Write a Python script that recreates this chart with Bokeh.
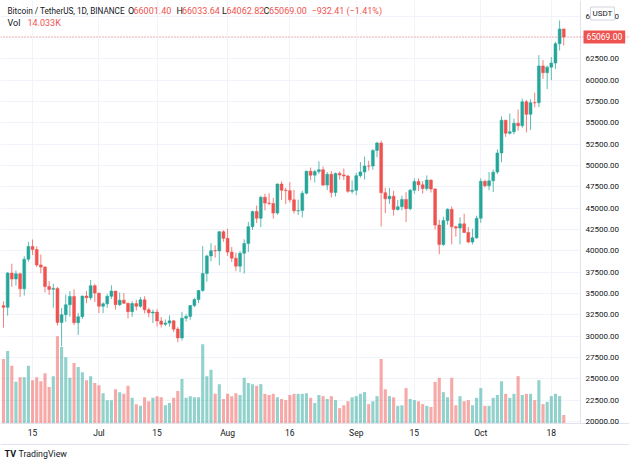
import pandas as pd
from bokeh.plotting import figure
from bokeh.models import (ColumnDataSource, Range1d, FixedTicker, SingleIntervalTicker,
                          NumeralTickFormatter, Label, Span, BoxAnnotation)
from bokeh.embed import file_html
from bokeh.resources import INLINE

# ---------------- data ----------------
start_date = "2021-06-08"
end_date = "2021-10-21"

opens = [
    33575, 33380, 37389, 36693, 37313, 35546, 39020, 40516, 40144, 38349, 38093, 35820, 35484, 35600, 31615, 32510, 33676, 34663, 31577, 32283, 34703, 34494, 35912,
    35045, 33502, 33786, 34669, 35285, 33690, 34221, 33863, 32875, 33815, 33503, 34259, 33086, 32729, 32820, 31781, 31389, 31533, 31797, 30839, 29791, 32110, 32314, 33581, 34292, 35350, 37338, 39406, 40020, 39990, 42236,
    41461, 39850, 39146, 38207, 39723, 40862, 42836, 44614, 43815, 46281, 45596, 45556, 44428, 47834, 47113, 47052, 45974, 44696, 44715, 46760, 49340, 48869, 49286, 49507, 47707, 48972, 46843, 49070, 48896, 48767, 46970,
    47100, 48810, 49246, 49943, 49938, 51770, 52634, 46811, 46092, 46396, 44851, 45172, 46026, 44941, 47104, 48122, 47737, 47299, 48293, 47241, 43016, 40734, 43543, 44866, 42810, 42670, 43160, 42147, 41025, 41523,
    43820, 48141, 47634, 48200, 49225, 51471, 55316, 53785, 53955, 54950, 54659, 57471, 55996, 57370, 57347, 61672, 60875, 61528, 62005, 64280, 66001.40,
]
highs = [
    34069, 37534, 38491, 37690, 37439, 39380, 41064, 41330, 40528, 39560, 38202, 36457, 36137, 35750, 33298, 34881, 35298, 35500, 32700, 34749, 35297, 36600, 36100,
    35057, 33977, 34945, 35967, 35293, 35118, 35059, 33929, 34100, 34262, 34590, 34679, 33340, 33114, 33185, 32249, 31950, 32435, 31885, 31063, 32859, 32576, 33650, 34500, 35398, 40550, 39542, 40900, 40640, 42316, 42414,
    42599, 40459, 39780, 39969, 41350, 43392, 44700, 45310, 46454, 46700, 46743, 46218, 47886, 48144, 47392, 48053, 47161, 46000, 47033, 49382, 49757, 49500, 50500, 49873, 49236, 49355, 49186, 49300, 49658, 48900, 48246,
    49150, 50400, 51052, 50558, 51900, 52780, 52920, 47400, 47366, 47031, 45980, 46460, 46876, 47250, 48490, 48500, 48160, 48843, 48372, 47347, 43639, 44000, 44978, 45200, 42966, 43950, 44350, 42787, 42590, 44132,
    48495, 48336, 49229, 49536, 51886, 55750, 55332, 56100, 55489, 56561, 57839, 57680, 57777, 58532, 62933, 62350, 61720, 62696, 64487, 67000, 66033.64,
]
lows = [
    31004, 32397, 35782, 35936, 34600, 34757, 38730, 39506, 38116, 37365, 35129, 34833, 33336, 31251, 28805, 31683, 32286, 31275, 30151, 32011, 33862, 34225, 34017,
    32712, 32700, 33316, 34357, 33125, 33532, 33777, 32077, 32261, 33004, 33330, 32658, 32203, 31550, 31133, 31020, 31164, 31108, 30479, 29278, 29482, 31708, 31925, 33402, 33851, 35205, 36383, 38772, 39200, 38313, 41064,
    39422, 38690, 37642, 37508, 37332, 39853, 42446, 43261, 42779, 44742, 45341, 43770, 44217, 45971, 45500, 45660, 44376, 44203, 43928, 46622, 48273, 48000, 49030, 47600, 47123, 46250, 46364, 48345, 48300, 46800, 46700,
    46512, 48584, 48352, 49400, 49500, 50969, 42843, 44412, 45514, 44132, 44722, 44743, 43370, 44750, 46700, 47014, 46700, 47035, 46829, 42500, 39600, 40565, 43069, 40750, 41646, 40750, 42098, 40888, 40753, 41410,
    43283, 47430, 47088, 46891, 49000, 50382, 53357, 53617, 53661, 54080, 54415, 53879, 54167, 56818, 56850, 60150, 58963, 60000, 61322, 63481, 64062.82,
]
closes = [
    33380, 37389, 36693, 37313, 35546, 39020, 40516, 40144, 38349, 38092, 35820, 35483, 35600, 31608, 32509, 33678, 34663, 31584, 32283, 34700, 34494, 35911, 35045,
    33504, 33786, 34669, 35287, 33690, 34220, 33863, 32875, 33815, 33502, 34259, 33087, 32730, 32820, 31781, 31389, 31534, 31797, 30817, 29795, 32110, 32314, 33581, 34292, 35350, 37338, 39406, 40020, 39990, 42236, 41461,
    39850, 39146, 38207, 39723, 40862, 42836, 44614, 43815, 46281, 45596, 45556, 44428, 47834, 47113, 47052, 45974, 44696, 44715, 46760, 49340, 48869, 49286, 49507, 47707, 48972, 46843, 49070, 48896, 48767, 46970, 47100,
    48810, 49246, 49943, 49937, 51770, 52634, 46811, 46092, 46396, 44851, 45172, 46026, 44941, 47104, 48122, 47737, 47299, 48293, 47241, 43016, 40734, 43543, 44866, 42810, 42670, 43160, 42147, 41025, 41523, 43820,
    48141, 47634, 48200, 49224, 51471, 55315, 53785, 53951, 54950, 54659, 57471, 55996, 57367, 57347, 61672, 60875, 61528, 62010, 64280, 66001, 65069.00,
]
volumes_k = [
    112, 126, 100, 72, 80, 80, 100, 75, 80, 73, 87, 63, 82, 152, 133, 115, 79, 105, 98, 89, 75, 82, 70,
    66, 52, 40, 40, 59, 54, 51, 65, 44, 33, 30, 45, 38, 44, 47, 45, 31, 35, 44, 56, 77, 44, 47, 45, 45, 138, 82, 93, 51, 68, 42,
    51, 47, 52, 49, 79, 70, 68, 65, 68, 51, 49, 51, 45, 42, 40, 49, 51, 51, 51, 52, 44, 35, 49, 47, 42, 47, 40, 26, 31, 38, 45,
    47, 51, 54, 33, 38, 47, 112, 59, 47, 45, 30, 31, 61, 42, 40, 38, 33, 30, 28, 72, 79, 54, 45, 79, 31, 47, 38, 40, 31, 44,
    61, 30, 30, 44, 49, 73, 51, 44, 51, 82, 49, 51, 51, 40, 75, 33, 37, 47, 51, 47, 14.033,
]

tick_dates = ["2021-06-15", "2021-07-01", "2021-07-15", "2021-08-01", "2021-08-16",
              "2021-09-01", "2021-09-15", "2021-10-01", "2021-10-18"]
tick_labels = ["15", "Jul", "15", "Aug", "16", "Sep", "15", "Oct", "18"]

header_title = "Bitcoin / TetherUS, 1D, BINANCE"
last_open, last_high, last_low, last_close = "66001.40", "66033.64", "64062.82", "65069.00"
last_change = "\u2212932.41 (\u22121.41%)"
last_vol = "14.033K"
last_price = 65069.00

# ---------------- layout / styling ----------------
UP = "#26a69a"
DOWN = "#ef5350"
TXT = "#131722"
GRID = "#f0f3fa"
SEP = "#e0e3eb"
FONT = "Roboto"
W, H = 629, 461

X0, X1 = -0.723, 150.84          # visible day-index range over the full canvas
Y0, Y1 = 15312.4, 69337.5        # visible price range over the full canvas
AXIS_X = 139.04                  # day index where the price scale begins
AXIS_Y = 19824.0                 # price where the time scale begins
SCALE_BOTTOM = 17305.0           # bottom edge of the time scale box

dates = pd.date_range(start_date, end_date, freq="D")
xs = [(d - dates[0]).days for d in dates]
colors = [UP if c >= o else DOWN for o, c in zip(opens, closes)]
src = ColumnDataSource(dict(
    x=xs, o=opens, h=highs, l=lows, c=closes,
    top=[max(o, c) for o, c in zip(opens, closes)],
    bot=[min(o, c) for o, c in zip(opens, closes)],
    col=colors, vol=volumes_k,
))
tick_x = [(pd.Timestamp(d) - dates[0]).days for d in tick_dates]

p = figure(width=W, height=H, x_range=Range1d(X0, X1), y_range=Range1d(Y0, Y1),
           y_axis_location="right", output_backend="svg", toolbar_location=None,
           min_border_left=0, min_border_top=0, min_border_right=0, min_border_bottom=0,
           background_fill_color="white", border_fill_color="white", outline_line_color=None)
p.extra_y_ranges = {"vol": Range1d(-67.4, 739.4)}

# grid
p.xgrid.ticker = FixedTicker(ticks=tick_x)
p.xgrid.grid_line_color = GRID
p.ygrid.grid_line_color = GRID
# blank the grid under the scales
p.add_layout(BoxAnnotation(left=AXIS_X, fill_color="white", fill_alpha=1, line_color=None, level="underlay"))
p.add_layout(BoxAnnotation(top=AXIS_Y, fill_color="white", fill_alpha=1, line_color=None, level="underlay"))

# price scale (drawn inside the canvas at a fixed location)
yax = p.yaxis[0]
yax.fixed_location = AXIS_X
yax.bounds = (AXIS_Y, Y1)
yax.ticker = SingleIntervalTicker(interval=2500)
yax.formatter = NumeralTickFormatter(format="0.00")
yax.major_label_text_font = FONT
yax.major_label_text_font_size = "8px"
yax.major_label_text_color = TXT
yax.axis_line_color = SEP
yax.major_tick_line_color = None
yax.minor_tick_line_color = None
yax.major_tick_out = 0
yax.major_tick_in = 0
yax.minor_tick_out = 0
yax.major_label_standoff = 5

# time scale
xax = p.xaxis[0]
xax.fixed_location = AXIS_Y
xax.ticker = FixedTicker(ticks=tick_x)
xax.major_label_overrides = {t: lab for t, lab in zip(tick_x, tick_labels)}
xax.major_label_text_font = FONT
xax.major_label_text_font_size = "8.5px"
xax.major_label_text_color = TXT
xax.axis_line_color = SEP
xax.major_tick_line_color = None
xax.minor_tick_line_color = None
xax.major_tick_out = 0
xax.major_tick_in = 0
xax.minor_tick_out = 0
xax.major_label_standoff = 5
p.add_layout(Span(location=SCALE_BOTTOM, dimension="width", line_color=SEP, line_width=1))

# volume
p.vbar(x="x", top="vol", bottom=0, width=0.75, source=src, y_range_name="vol",
       fill_color="col", fill_alpha=0.5, line_color=None)

# candles
p.segment(x0="x", y0="h", x1="x", y1="l", source=src, line_color="col", line_width=1, line_alpha=0.75)
p.vbar(x="x", top="top", bottom="bot", width=0.7, source=src,
       fill_color="col", line_color="col", line_width=0.5)

# last price line
p.add_layout(Span(location=last_price, dimension="width", line_color=DOWN,
                  line_dash="1 2", line_width=1, line_alpha=0.8))

# header labels (screen units: x from left, y from bottom of canvas)
def lab(x, y, text, color=TXT, size="10px", **kw):
    p.add_layout(Label(x=x, y=y, x_units="screen", y_units="screen", text=text,
                       text_color=color, text_font=FONT, text_font_size=size,
                       text_baseline="middle", **kw))

y1 = H - 10
y2 = H - 22
lab(7, y1, header_title, size="8.2px")
lab(127.5, y1, "O", size="9px")
lab(133, y1, last_open, DOWN, "9px")
lab(176, y1, "H", size="9px")
lab(181.5, y1, last_high, DOWN, "9px")
lab(221.5, y1, "L", size="9px")
lab(226, y1, last_low, DOWN, "9px")
lab(263, y1, "C", size="9px")
lab(268.5, y1, last_close, DOWN, "9px")
lab(311, y1, last_change, DOWN, "9px")
lab(7, y2, "Vol", size="9px")
lab(27, y2, last_vol, DOWN, "9px")

# price scale tags
p.add_layout(Label(x=583, y=last_price, x_units="screen", y_units="data", text=last_close,
                   text_color="white", text_font=FONT, text_font_size="8.5px",
                   text_baseline="middle", background_fill_color=DOWN, padding=3))
p.add_layout(Label(x=590, y=H - 13, x_units="screen", y_units="screen", text="USDT",
                   text_color=TXT, text_font=FONT, text_font_size="8px",
                   text_baseline="middle", background_fill_color="white",
                   border_line_color="#d1d4dc", padding=2))

# TradingView logo text
lab(4, H - 453, "TV", TXT, "9px", text_font_style="bold")
lab(18, H - 453, "TradingView", TXT, "8.8px")

open("out.html", "w").write(file_html(p, INLINE))
